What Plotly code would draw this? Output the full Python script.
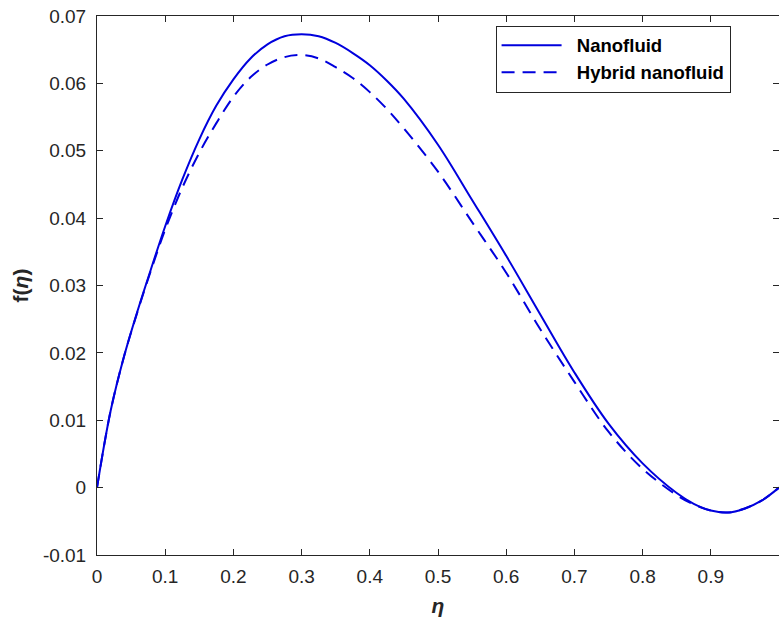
import plotly.graph_objects as go

eta = [0, 0.02, 0.04, 0.06, 0.08, 0.1, 0.125, 0.15, 0.175, 0.2, 0.225, 0.25,
       0.275, 0.3, 0.325, 0.35, 0.375, 0.4, 0.425, 0.45, 0.5, 0.55, 0.6, 0.65,
       0.7, 0.75, 0.8, 0.85, 0.875, 0.9, 0.925, 0.95, 0.975, 1.0]
f_nano = [0, 0.0114, 0.0196, 0.0264, 0.0327, 0.0388, 0.0457, 0.0517, 0.0567,
          0.0606, 0.0637, 0.0658, 0.0670, 0.0673, 0.0670, 0.0660, 0.0645, 0.0627,
          0.0604, 0.0577, 0.0509, 0.0427, 0.0344, 0.0257, 0.0171, 0.0095, 0.0036,
          -0.0008, -0.0024, -0.0034, -0.0037, -0.0031, -0.0019, 0]
f_hybrid = [0, 0.0114, 0.0196, 0.0263, 0.0325, 0.0383, 0.0445, 0.0497, 0.0541,
            0.0580, 0.0609, 0.0628, 0.0639, 0.0642, 0.0637, 0.0624, 0.0608, 0.0587,
            0.0562, 0.0533, 0.0469, 0.0394, 0.0319, 0.0235, 0.0157, 0.0083, 0.0028,
            -0.0011, -0.0025, -0.0034, -0.0037, -0.0031, -0.0019, 0]
names = ["\u00a0\u00a0Nanofluid", "\u00a0\u00a0Hybrid nanofluid"]
x_ticks = [0, 0.1, 0.2, 0.3, 0.4, 0.5, 0.6, 0.7, 0.8, 0.9, 1]
x_ticklabels = ["0", "0.1", "0.2", "0.3", "0.4", "0.5", "0.6", "0.7", "0.8", "0.9", "1"]
y_ticks = [-0.01, 0, 0.01, 0.02, 0.03, 0.04, 0.05, 0.06, 0.07]
y_ticklabels = ["-0.01", "0", "0.01", "0.02", "0.03", "0.04", "0.05", "0.06", "0.07"]

BLUE = "#0000dd"
AX = "#262626"
FONT = "Liberation Sans, Arial, sans-serif"

fig = go.Figure()
fig.add_trace(go.Scatter(x=eta, y=f_nano, mode="lines", name=names[0],
                         line=dict(color=BLUE, width=2, shape="spline", smoothing=1.0)))
fig.add_trace(go.Scatter(x=eta, y=f_hybrid, mode="lines", name=names[1],
                         line=dict(color=BLUE, width=2, shape="spline", smoothing=1.0,
                                   dash="13px,8px")))

axis_common = dict(showline=True, linecolor=AX, linewidth=1, mirror="ticks",
                   ticks="inside", ticklen=6, tickcolor=AX, tickwidth=1,
                   showgrid=False, zeroline=False,
                   tickfont=dict(family=FONT, size=19, color=AX))

fig.update_layout(
    width=779, height=623,
    margin=dict(l=97, r=0, t=16, b=68),
    plot_bgcolor="white", paper_bgcolor="white",
    font=dict(family=FONT, color=AX),
    xaxis=dict(range=[0, 1], tickvals=x_ticks, ticktext=x_ticklabels,
               ticklabelstandoff=4,
               title=dict(text="<b><i>η</i></b>", font=dict(family=FONT, size=21, color=AX),
                          standoff=12),
               **axis_common),
    yaxis=dict(range=[-0.01, 0.07], tickvals=y_ticks, ticktext=y_ticklabels,
               ticklabelstandoff=6,
               title=dict(text="<b>f(<i>η</i>)</b>", font=dict(family=FONT, size=21, color=AX),
                          standoff=8),
               **axis_common),
    legend=dict(x=0.929, y=0.982, xanchor="right", yanchor="top",
                bgcolor="white", bordercolor=AX, borderwidth=1,
                itemwidth=60,
                font=dict(family=FONT, size=18.5, color="black", weight="bold"),
                tracegroupgap=0),
    showlegend=True,
)

fig.write_html("out.html")
